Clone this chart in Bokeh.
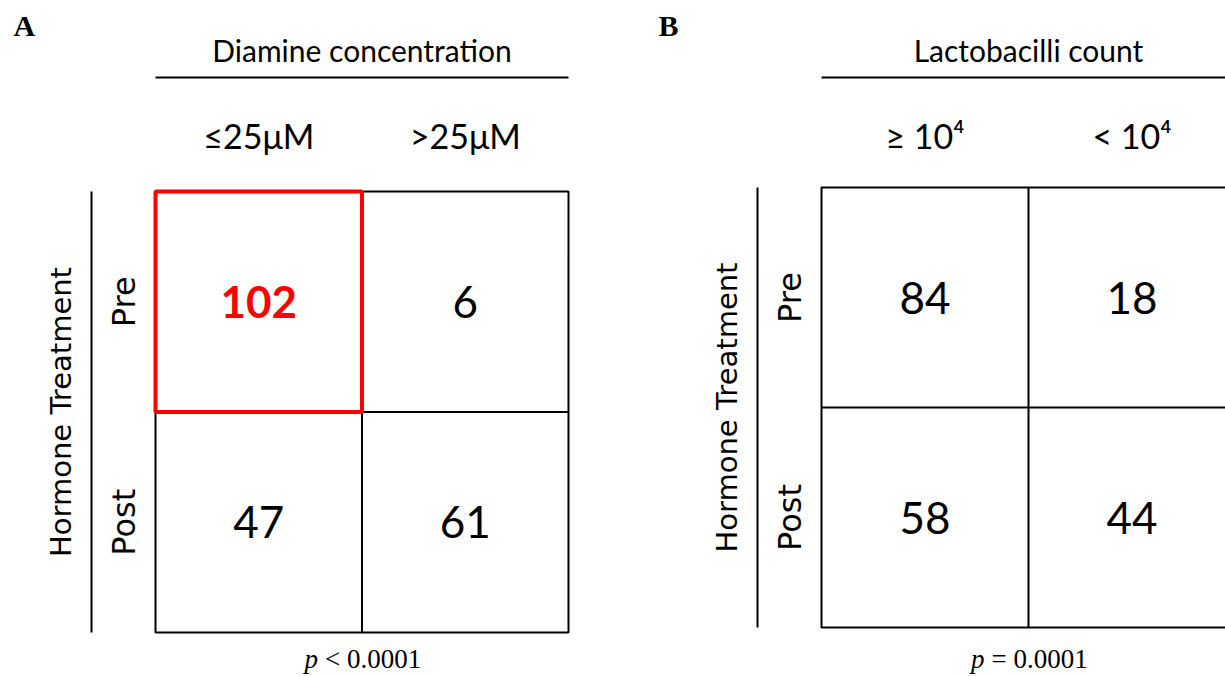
import math
from bokeh.plotting import figure
from bokeh.models import Range1d
from bokeh.core.properties import value
from bokeh.embed import file_html
from bokeh.resources import INLINE

# ---------------- data ----------------
panel_letters = ["A", "B"]
col_titles = ["Diamine concentration", "Lactobacilli count"]
col_labels_a = ["≤25μM", ">25μM"]
col_labels_b = ["≥ 10⁴", "< 10⁴"]
row_labels = ["Pre", "Post"]
row_title = "Hormone Treatment"
counts_a = [[102, 6], [47, 61]]
counts_b = [[84, 18], [58, 44]]
p_texts = ["< 0.0001", "= 0.0001"]
highlight = [(0, 0), None]   # (row, col) highlighted in red per panel

# ---------------- layout (pixel space) ----------------
W, H = 1225, 676
panels = [
    dict(x0=155, y0=191, cw=206.5, ch=220.5, letter_x=13),
    dict(x0=821, y0=187, cw=207, ch=220, letter_x=658),
]
col_label_sets = [col_labels_a, col_labels_b]
count_sets = [counts_a, counts_b]

p = figure(width=W, height=H, x_range=Range1d(0, W), y_range=Range1d(H, 0),
           output_backend="svg", toolbar_location=None, min_border=0,
           x_axis_location=None, y_axis_location=None)
p.grid.visible = False
p.outline_line_color = None
p.background_fill_color = "white"
p.border_fill_color = "white"

LATO = value("Lato")
SERIF = value("Liberation Serif")
DEJ = value("DejaVu Sans")

for k in range(2):
    L = panels[k]
    x0, y0, cw, ch = L["x0"], L["y0"], L["cw"], L["ch"]
    gx1 = x0 + 2 * cw
    gy1 = y0 + 2 * ch
    cx = x0 + cw
    # panel letter
    p.text(x=[L["letter_x"]], y=[25], text=[panel_letters[k]], text_font=SERIF,
           text_font_style="bold", text_font_size="30px", text_align="left",
           text_baseline="middle", text_color="black")
    # column title + rule
    p.text(x=[cx], y=[49], text=[col_titles[k]], text_font=LATO, text_font_size="30px",
           text_align="center", text_baseline="middle", text_color="black")
    p.segment(x0=[x0], y0=[77], x1=[gx1], y1=[77], line_color="black", line_width=2)
    # column labels
    labs = col_label_sets[k]
    p.text(x=[x0 + (j + 0.5) * cw for j in range(2)], y=[135, 135], text=labs,
           text_font=LATO, text_font_size="34px", text_align="center",
           text_baseline="middle", text_color="black")
    # row title + vertical rule
    p.text(x=[x0 - 95], y=[y0 + ch], text=[row_title], text_font=DEJ,
           text_font_size="29px", text_align="center", text_baseline="middle",
           angle=math.pi / 2, text_color="black")
    p.segment(x0=[x0 - 64], y0=[y0], x1=[x0 - 64], y1=[gy1], line_color="black", line_width=2)
    # row labels
    p.text(x=[x0 - 32] * 2, y=[y0 + (i + 0.5) * ch for i in range(2)], text=row_labels,
           text_font=DEJ, text_font_size="32px", text_align="center",
           text_baseline="middle", angle=math.pi / 2, text_color="black")
    # grid
    p.rect(x=[cx], y=[y0 + ch], width=2 * cw, height=2 * ch, fill_color=None,
           line_color="black", line_width=2)
    p.segment(x0=[cx, x0], y0=[y0, y0 + ch], x1=[cx, gx1], y1=[gy1, y0 + ch],
              line_color="black", line_width=2)
    # counts
    cnt = count_sets[k]
    hl = highlight[k]
    xs, ys, ts = [], [], []
    for i in range(2):
        for j in range(2):
            if hl is not None and (i, j) == hl:
                continue
            xs.append(x0 + (j + 0.5) * cw)
            ys.append(y0 + (i + 0.5) * ch)
            ts.append(str(cnt[i][j]))
    p.text(x=xs, y=ys, text=ts, text_font=LATO, text_font_size="44px",
           text_align="center", text_baseline="middle", text_color="black")
    if hl is not None:
        i, j = hl
        p.rect(x=[x0 + (j + 0.5) * cw], y=[y0 + (i + 0.5) * ch], width=cw, height=ch,
               fill_color=None, line_color="#ff0000", line_width=4)
        p.text(x=[x0 + (j + 0.5) * cw], y=[y0 + (i + 0.5) * ch], text=[str(cnt[i][j])],
               text_font=LATO, text_font_style="bold", text_font_size="44px",
               text_align="center", text_baseline="middle", text_color="#ff0000")
    # p-value
    split = cx - 44
    p.text(x=[split], y=[658], text=["p"], text_font=SERIF, text_font_style="italic",
           text_font_size="27px", text_align="right", text_baseline="middle",
           text_color="black")
    p.text(x=[split + 7], y=[658], text=[p_texts[k]], text_font=SERIF,
           text_font_size="27px", text_align="left", text_baseline="middle",
           text_color="black")

open("out.html", "w").write(file_html(p, INLINE))
